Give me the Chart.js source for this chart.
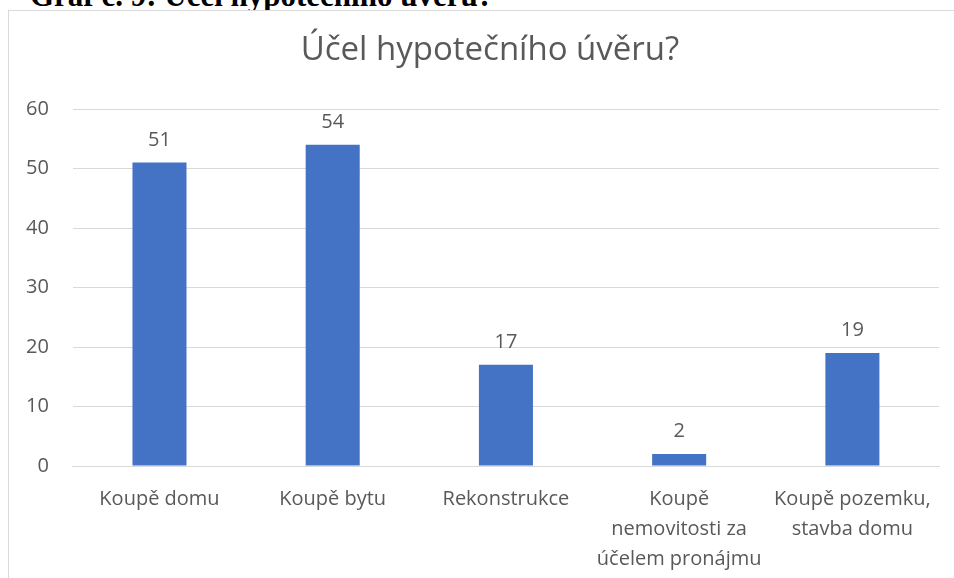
<!DOCTYPE html>
<html lang="cs">
<head>
<meta charset="utf-8">
<script src="https://cdn.jsdelivr.net/npm/chart.js@4.4.1/dist/chart.umd.min.js"></script>
<style>
  html, body { margin: 0; padding: 0; width: 954px; height: 578px; overflow: hidden; background: #fff; }
  .heading {
    position: absolute; left: 30px; top: -20px; margin: 0;
    font: bold 31px/31px "Liberation Serif", "Times New Roman", serif; color: #000; white-space: nowrap;
  }
  .frame {
    position: absolute; left: 8px; top: 10px; width: 962px; height: 600px;
    border: 1px solid #d9d9d9; background: #fff;
  }
</style>
</head>
<body>
<p class="heading">Graf č. 9: Účel hypotečního úvěru?</p>
<div class="frame"><canvas id="chart" width="962" height="600"></canvas></div>
<script>
const chartTitle = 'Účel hypotečního úvěru?';
const categories = [
  'Koupě domu',
  'Koupě bytu',
  'Rekonstrukce',
  ['Koupě', 'nemovitosti za', 'účelem pronájmu'],
  ['Koupě pozemku,', 'stavba domu'],
];
const counts = [51, 54, 17, 2, 19];
const yTicks = { min: 0, max: 60, step: 10 };

const FONT = '"Open Sans", "Noto Sans", sans-serif';
const TEXT = '#595959';
const GRID = '#d9d9d9';

// title centred on the whole chart frame, not on the padded area
const frameTitle = {
  id: 'frameTitle',
  afterDraw(chart) {
    const { ctx } = chart;
    ctx.save();
    ctx.font = `33px ${FONT}`;
    ctx.fillStyle = TEXT;
    ctx.textAlign = 'center';
    ctx.textBaseline = 'middle';
    ctx.fillText(chartTitle, chart.width / 2, 40);
    ctx.restore();
  },
};

// value labels above each bar
const barValues = {
  id: 'barValues',
  afterDatasetsDraw(chart) {
    const { ctx } = chart;
    const meta = chart.getDatasetMeta(0);
    ctx.save();
    ctx.font = `20px ${FONT}`;
    ctx.fillStyle = TEXT;
    ctx.textAlign = 'center';
    ctx.textBaseline = 'alphabetic';
    meta.data.forEach((bar, i) => {
      ctx.fillText(String(counts[i]), bar.x, bar.y - 17);
    });
    ctx.restore();
  },
};

new Chart(document.getElementById('chart'), {
  type: 'bar',
  data: {
    labels: categories,
    datasets: [{
      data: counts,
      backgroundColor: '#4472c4',
      categoryPercentage: 1,
      barPercentage: 0.312,
    }],
  },
  options: {
    responsive: false,
    animation: false,
    layout: { padding: { left: -7, right: 32, top: 98, bottom: 27 } },
    plugins: {
      legend: { display: false },
      tooltip: { enabled: false },
      title: { display: false },
    },
    scales: {
      x: {
        grid: { display: false },
        border: { color: GRID, width: 1 },
        ticks: {
          color: TEXT,
          font: { family: FONT, size: 20, lineHeight: 1.5 },
          padding: 10,
          maxRotation: 0,
          autoSkip: false,
        },
      },
      y: {
        min: yTicks.min,
        max: yTicks.max,
        border: { display: false },
        grid: { color: GRID, lineWidth: 1, drawTicks: false },
        ticks: {
          stepSize: yTicks.step,
          color: TEXT,
          font: { family: FONT, size: 20 },
          padding: 24,
        },
      },
    },
  },
  plugins: [barValues, frameTitle],
});
</script>
</body>
</html>
